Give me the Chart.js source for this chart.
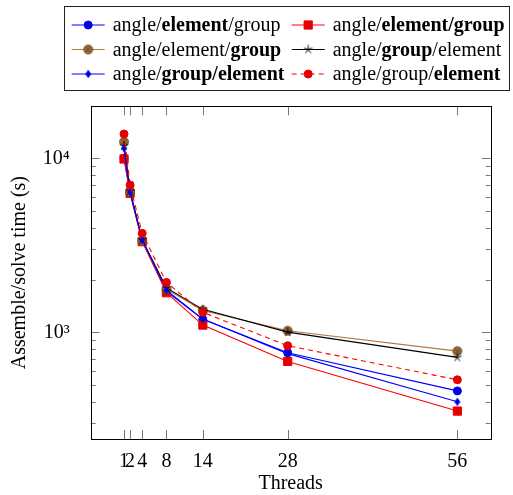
<!DOCTYPE html>
<html><head><meta charset="utf-8">
<script src="https://cdn.jsdelivr.net/npm/chart.js@4/dist/chart.umd.min.js"></script>
<style>html,body{margin:0;padding:0;background:#fff}#wrap{width:513px;height:495px;position:relative}</style>
</head><body><div id="wrap"><canvas id="c" width="513" height="495"></canvas></div>
<script>
// ---- data ----
const threads = [1, 2, 4, 8, 14, 28, 56];
const xTickValues = [1, 2, 4, 8, 14, 28, 56];
const yTickValues = [1000, 10000];
const yTickLabels = ['10³', '10⁴'];
const seriesNames = ['angle/**element**/group', 'angle/**element/group**', 'angle/element/**group**',
                     'angle/**group**/element', 'angle/**group/element**', 'angle/group/**element**'];
const elementBoldA = [10000, 6300, 3350, 1720, 1190, 764, 461];
const elementGroupBold = [9910, 6300, 3320, 1690, 1101, 681, 353];
const groupBoldA = [12460, 6430, 3357, 1774, 1335, 1021, 780];
const groupBoldB = [11800, 6500, 3400, 1800, 1356, 1003, 718];
const groupElementBold = [11420, 6400, 3400, 1750, 1192, 755, 399];
const elementBoldB = [13800, 7025, 3707, 1937, 1303, 838, 534];
const seriesValues = [elementBoldA, elementGroupBold, groupBoldA, groupBoldB, groupElementBold, elementBoldB];

const FONT = '"Liberation Serif", "Times New Roman", serif';

// ---- custom markers ----
function mk(size, fn) {
  const c = document.createElement('canvas'); c.width = size; c.height = size;
  const g = c.getContext('2d'); fn(g, size / 2); return c;
}
const otimes = mk(12, (g, m) => {
  g.beginPath(); g.arc(m, m, 4.5, 0, Math.PI * 2); g.fillStyle = '#996633'; g.fill();
  g.strokeStyle = '#6b4724'; g.lineWidth = 0.8; g.stroke();
  const d = 3.1; g.beginPath();
  g.moveTo(m - d, m - d); g.lineTo(m + d, m + d); g.moveTo(m + d, m - d); g.lineTo(m - d, m + d);
  g.stroke();
});
const star5 = mk(12, (g, m) => {
  g.strokeStyle = '#000'; g.lineWidth = 1; g.beginPath();
  for (let k = 0; k < 5; k++) {
    const a = -Math.PI / 2 + k * 2 * Math.PI / 5;
    g.moveTo(m, m); g.lineTo(m + 4.5 * Math.cos(a), m + 4.5 * Math.sin(a));
  }
  g.stroke();
});
const diamond = mk(12, (g, m) => {
  g.fillStyle = '#0000e6'; g.beginPath();
  g.moveTo(m, m - 4.3); g.lineTo(m + 3, m); g.lineTo(m, m + 4.3); g.lineTo(m - 3, m); g.closePath(); g.fill();
});

const styles = [
  {line: '#0000ff', fill: '#0000e6', pointStyle: 'circle', r: 4, dash: []},
  {line: '#ff0000', fill: '#e60000', pointStyle: 'rect', r: 5.8, dash: []},
  {line: '#b07840', fill: '#996633', pointStyle: otimes, r: 5, dash: []},
  {line: '#000000', fill: '#000000', pointStyle: star5, r: 5, dash: []},
  {line: '#0000ff', fill: '#0000e6', pointStyle: diamond, r: 5, dash: []},
  {line: '#ff0000', fill: '#e60000', pointStyle: 'circle', r: 4, dash: [5, 4]},
];

const datasets = seriesValues.map((vals, i) => ({
  label: seriesNames[i].replace(/\*\*/g, ''),
  data: threads.map((t, j) => ({x: t, y: vals[j]})),
  borderColor: styles[i].line,
  backgroundColor: styles[i].fill,
  pointBackgroundColor: styles[i].fill,
  pointBorderColor: styles[i].fill,
  pointBorderWidth: 1,
  pointStyle: styles[i].pointStyle,
  pointRadius: styles[i].r,
  borderWidth: 1.1,
  borderDash: styles[i].dash,
  tension: 0,
  order: 6 - i,
}));

// ---- frame, inward ticks, legend ----
const framePlugin = {
  id: 'frame',
  beforeDatasetsDraw(chart) {
    const {ctx, chartArea: a, scales: {x, y}} = chart;
    ctx.save();
    ctx.strokeStyle = '#777'; ctx.lineWidth = 1;
    ctx.beginPath();
    xTickValues.forEach(v => {
      const px = Math.round(x.getPixelForValue(v)) + 0.5;
      ctx.moveTo(px, a.bottom); ctx.lineTo(px, a.bottom - 9);
      ctx.moveTo(px, a.top); ctx.lineTo(px, a.top + 9);
    });
    for (let dec = 100; dec <= 10000; dec *= 10) {
      for (let m = 1; m <= 9; m++) {
        const v = dec * m;
        if (v < y.min || v > y.max) continue;
        const len = m === 1 ? 9 : 5;
        const py = Math.round(y.getPixelForValue(v)) + 0.5;
        ctx.moveTo(a.left, py); ctx.lineTo(a.left + len, py);
        ctx.moveTo(a.right, py); ctx.lineTo(a.right - len, py);
      }
    }
    ctx.stroke();
    ctx.strokeStyle = '#000'; ctx.lineWidth = 1;
    ctx.strokeRect(Math.round(a.left) + 0.5, Math.round(a.top) + 0.5,
                   Math.round(a.right) - Math.round(a.left), Math.round(a.bottom) - Math.round(a.top));
    ctx.restore();
  },
  afterDraw(chart) {
    const ctx = chart.ctx;
    ctx.save();
    ctx.fillStyle = '#fff';
    ctx.strokeStyle = '#222'; ctx.lineWidth = 1;
    ctx.fillRect(64.5, 6.5, 445, 84);
    ctx.strokeRect(64.5, 6.5, 445, 84);
    const colX = [71.7, 291.7];
    const rowY = [25, 49.5, 74];
    seriesNames.forEach((name, i) => {
      const x0 = colX[i % 2], yy = rowY[Math.floor(i / 2)];
      const ds = chart.data.datasets[i];
      ctx.save();
      ctx.strokeStyle = ds.borderColor; ctx.lineWidth = ds.borderWidth;
      ctx.setLineDash(ds.borderDash || []);
      ctx.beginPath(); ctx.moveTo(x0, yy); ctx.lineTo(x0 + 33, yy); ctx.stroke();
      ctx.setLineDash([]);
      ctx.fillStyle = ds.pointBackgroundColor; ctx.strokeStyle = ds.pointBorderColor;
      ctx.lineWidth = ds.pointBorderWidth;
      Chart.helpers.drawPoint(ctx, {pointStyle: ds.pointStyle, radius: ds.pointRadius, rotation: 0, borderWidth: ds.pointBorderWidth}, x0 + 16.5, yy);
      ctx.restore();
      // rich text
      let tx = x0 + 41;
      ctx.fillStyle = '#000'; ctx.textBaseline = 'middle'; ctx.textAlign = 'left';
      name.split('**').forEach((seg, k) => {
        ctx.font = (k % 2 ? 'bold ' : '') + '20px ' + FONT;
        ctx.fillText(seg, tx, yy + 1);
        tx += ctx.measureText(seg).width;
      });
    });
    ctx.restore();
  }
};

new Chart(document.getElementById('c'), {
  type: 'line',
  data: {datasets},
  plugins: [framePlugin],
  options: {
    responsive: false,
    animation: false,
    devicePixelRatio: 1,
    layout: {padding: {top: 106.3, right: 22.3, left: 0, bottom: 0}},
    plugins: {legend: {display: false}, tooltip: {enabled: false}},
    scales: {
      x: {
        type: 'linear', min: -4.5, max: 61.5,
        grid: {display: false}, border: {display: false},
        afterBuildTicks: s => { s.ticks = xTickValues.map(v => ({value: v})); },
        afterFit: s => { s.height = 56; },
        ticks: {autoSkip: false, maxRotation: 0, padding: 3, color: '#000',
                font: {family: FONT, size: 20}, callback: v => String(v)},
        title: {display: true, text: 'Threads', color: '#000', font: {family: FONT, size: 20, lineHeight: 1.0},
                padding: {top: 0, bottom: 1}}
      },
      y: {
        type: 'logarithmic', min: 244, max: 19900,
        grid: {display: false}, border: {display: false},
        afterBuildTicks: s => { s.ticks = yTickValues.map(v => ({value: v})); },
        afterFit: s => { s.width = 90.7; },
        ticks: {autoSkip: false, padding: 13, color: '#000', font: {family: FONT, size: 20},
                callback: v => { const k = yTickValues.indexOf(v); return k >= 0 ? yTickLabels[k] : ''; }},
        title: {display: true, text: 'Assemble/solve time (s)', color: '#000',
                font: {family: FONT, size: 20, lineHeight: 1.2}, padding: {top: 8, bottom: 0}}
      }
    }
  }
});
</script></body></html>
